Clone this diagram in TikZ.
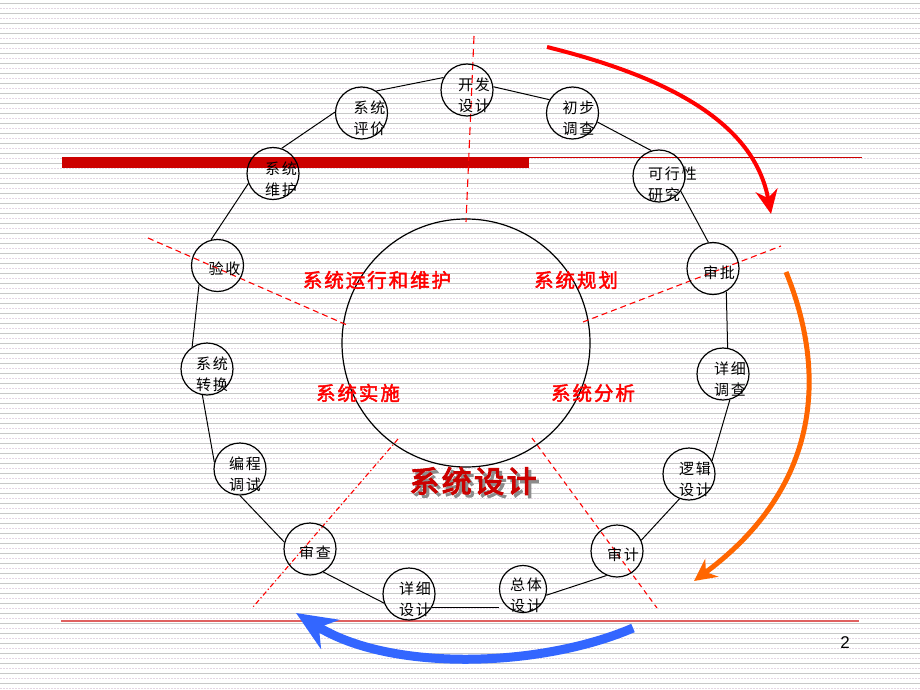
\documentclass[tikz,border=0pt]{standalone}
\usepackage{fontspec}
\newfontfamily\cjkls{Noto Sans CJK SC}[LetterSpace=12]
\newfontfamily\cjkbold{Noto Sans CJK SC}[LetterSpace=10, FakeBold=2.2]
\newfontfamily\cjkheavy{Noto Sans CJK SC}[LetterSpace=8, FakeBold=3.5]
\newfontfamily\numfont{Liberation Sans}
\usetikzlibrary{arrows.meta,calc}
\definecolor{tred}{RGB}{204,0,0}
\definecolor{orangec}{RGB}{255,102,0}
\definecolor{bluec}{RGB}{51,102,255}
\definecolor{lnred}{RGB}{224,96,96}
\definecolor{stripe}{RGB}{200,200,200}
\definecolor{stripeb}{RGB}{228,214,228}
\tikzset{
  stage/.style={circle, draw=black, line width=1.2pt, minimum size=52pt, inner sep=0pt},
  stagetxt/.style={font=\cjkls\fontsize{15}{21}\selectfont, align=left, anchor=west, inner sep=0pt},
  link/.style={draw=black, line width=1pt},
  phase/.style={font=\cjkbold\fontsize{19.5}{21}\selectfont, text=red, inner sep=0pt},
  radial/.style={draw=red, line width=1.1pt, dash pattern=on 6pt off 4pt},
  radialdd/.style={draw=red, line width=1.1pt, dash pattern=on 5pt off 2.5pt on 1.2pt off 2.5pt},
  title/.style={font=\cjkheavy\fontsize{30}{32}\selectfont, inner sep=0pt}
}
\begin{document}
\begin{tikzpicture}[x=1pt,y=-1pt]
\useasboundingbox (0,0) rectangle (920,690);
\fill[white] (0,0) rectangle (920,690);
\foreach \yy in {3,13,...,693} \draw[stripe, line width=0.9pt] (0,\yy) -- (920,\yy);
\foreach \yy in {8,18,...,688} \draw[stripeb, line width=0.9pt, dash pattern=on 1.5pt off 1.5pt] (0,\yy) -- (920,\yy);

% decorative rules
\fill[tred] (62,157) rectangle (529,168);
\draw[tred, line width=1pt] (529,157.5) -- (862,157.5);
\draw[lnred, line width=1.8pt] (61,621) -- (859,621);

% central circle
\node[circle, draw=black, line width=1.2pt, minimum size=248pt, inner sep=0pt] (core) at (466,343) {};

% radial dashed lines
\coordinate (r1a) at (474,36);  \coordinate (r1b) at (466,222);
\coordinate (r2a) at (583,322); \coordinate (r2b) at (781,246);
\coordinate (r3a) at (148,238); \coordinate (r3b) at (347,325);
\coordinate (r4a) at (398,439); \coordinate (r4b) at (253,607);
\coordinate (r5a) at (532,438); \coordinate (r5b) at (657,608);
\draw[radial, dash pattern=on 8pt off 5pt] (r1a) -- (r1b);
\draw[radial] (r2a) -- (r2b);
\draw[radial] (r3a) -- (r3b);
\draw[radialdd] (r4a) -- (r4b);
\draw[radial, dash pattern=on 5pt off 4pt] (r5a) -- (r5b);

% stage circles
\node[stage] (kf) at (467,90) {};
\node[stage] (cb) at (572.5,113) {};
\node[stage] (kx) at (659,176) {};
\node[stage] (sp) at (713,268.5) {};
\node[stage] (xd) at (723,374) {};
\node[stage] (lj) at (689,474) {};
\node[stage] (sj) at (617,551) {};
\node[stage, minimum size=47pt] (zt) at (523,589) {};
\node[stage] (xs) at (409,594) {};
\node[stage] (sc) at (310,549) {};
\node[stage] (bc) at (240,469) {};
\node[stage] (zh) at (207,369) {};
\node[stage] (ys) at (217.5,265.5) {};
\node[stage] (wh) at (273,173.5) {};
\node[stage] (pj) at (361.5,113) {};

% stage texts
\node[stagetxt] (kf-t) at ($(kf)+(-9,5)$) {开发\\设计};
\node[stagetxt] (cb-t) at ($(cb)+(-10,5)$) {初步\\调查};
\node[stagetxt] (kx-t) at ($(kx)+(-11,8)$) {可行性\\研究};
\node[stagetxt] (sp-t) at ($(sp)+(-10,4)$) {审批};
\node[stagetxt] (xd-t) at ($(xd)+(-9,5)$) {详细\\调查};
\node[stagetxt] (lj-t) at ($(lj)+(-10,5)$) {逻辑\\设计};
\node[stagetxt] (sj-t) at ($(sj)+(-10,4)$) {审计};
\node[stagetxt] (zt-t) at ($(zt)+(-13,6)$) {总体\\设计};
\node[stagetxt] (xs-t) at ($(xs)+(-10,5)$) {详细\\设计};
\node[stagetxt] (sc-t) at ($(sc)+(-11,4)$) {审查};
\node[stagetxt] (bc-t) at ($(bc)+(-11,5)$) {编程\\调试};
\node[stagetxt] (zh-t) at ($(zh)+(-11,5)$) {系统\\转换};
\node[stagetxt] (ys-t) at ($(ys)+(-9,3)$) {验收};
\node[stagetxt] (wh-t) at ($(wh)+(-8,6)$) {系统\\维护};
\node[stagetxt] (pj-t) at ($(pj)+(-8,5)$) {系统\\评价};

% links
\draw[link] (pj.56) -- (kf.152);
\draw[link] (kf.7) -- (cb.150);
\draw[link] (cb.-20) -- (kx.107);
\draw[link] (kx.-35) -- (sp.100);
\draw[link] (sp.-60) -- (xd.80);
\draw[link] (xd.-75) -- (lj.30);
\draw[link] (lj.249) -- (sj.24);
\draw[link] (sj.247) -- (zt.-15);
\draw[link] (xs.-30) -- (xs.-30 -| zt.west);
\draw[link] (sc.-60) -- (xs.200);
\draw[link] (bc.-90) -- (sc.165);
\draw[link] (zh.-100) -- (bc.165);
\draw[link] (ys.226) -- (zh.124);
\draw[link] (wh.202) -- (ys.104);
\draw[link] (wh.71) -- (pj.178);

% phase labels
\node[phase] (p1) at (377,280) {系统运行和维护};
\node[phase] (p2) at (576,280) {系统规划};
\node[phase] (p3) at (358,393) {系统实施};
\node[phase] (p4) at (593,393) {系统分析};
\node[title, text=black!45] (ttl-s) at (476,484) {系统设计};
\node[title, text=tred] (ttl) at (473,481) {系统设计};

% big arrows
\coordinate (ra-s) at (547,47);  \coordinate (ra-e) at (771,214);
\coordinate (oa-s) at (786,272); \coordinate (oa-e) at (694,581);
\coordinate (ba-s) at (633,628); \coordinate (ba-e) at (296,613);
\draw[red, line width=4pt, -{Stealth[length=24pt,width=22pt]}] (ra-s) .. controls (680,80) and (755,128) .. (ra-e);
\draw[orangec, line width=5pt, -{Stealth[length=22pt,width=22pt]}] (oa-s) .. controls (822,360) and (830,480) .. (oa-e);
\draw[bluec, line width=9pt, -{Stealth[length=40pt,width=34pt]}] (ba-s) .. controls (540,668) and (390,672) .. (ba-e);

% page number
\node[font=\numfont\fontsize{17}{17}\selectfont, inner sep=0pt] (pg) at (845,643) {2};
\end{tikzpicture}
\end{document}
